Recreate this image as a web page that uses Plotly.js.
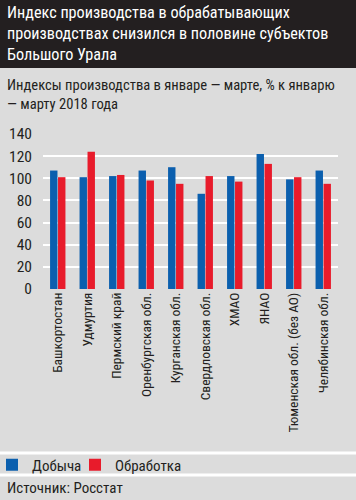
<!DOCTYPE html>
<html><head><meta charset="utf-8">
<script src="https://cdn.plot.ly/plotly-3.0.1.min.js"></script>
<style>html,body{margin:0;padding:0;background:#dcdcdc}</style>
</head><body><div id="chart" style="width:356px;height:500px"></div>
<script>
const categories = ["Башкортостан","Удмуртия","Пермский край","Оренбургская обл.","Курганская обл.","Свердловская обл.","ХМАО","ЯНАО","Тюменская обл. (без АО)","Челябинская обл."];
const dobycha = [107,101,102,107,110,86,102,122,99,107];
const obrabotka = [101,124,103,98,95,102,97,113,101,95];
const yTicks = [0,20,40,60,80,100,120,140];

const FONT = '"Roboto Condensed","Liberation Sans Narrow",sans-serif';
const W=356,H=500,L=43,R=18,T=134,B=211;
const pw=W-L-R, ph=H-T-B;
const px=x=>(x-L)/pw, py=y=>(H-B-y)/ph;

const data=[
 {type:'bar',name:'Добыча',x:categories,y:dobycha,marker:{color:'#0b5fae'},legend:'legend'},
 {type:'bar',name:'Обработка',x:categories,y:obrabotka,marker:{color:'#e81b2b'},legend:'legend2'}
];
const legendBase={orientation:'h',y:py(465),xanchor:'left',yanchor:'middle',font:{size:15,family:FONT,color:'#231f20'},bgcolor:'rgba(0,0,0,0)',itemwidth:30};
const layout={
 width:W,height:H,margin:{l:L,r:R,t:T,b:B,autoexpand:false},
 paper_bgcolor:'#dcdcdc',plot_bgcolor:'#dcdcdc',
 font:{family:FONT,color:'#231f20'},
 barmode:'group',bargap:0.46,bargroupgap:0.07,
 showlegend:true,
 legend:Object.assign({},legendBase,{x:px(-8)}),
 legend2:Object.assign({},legendBase,{x:px(75)}),
 xaxis:{type:'category',tickangle:-90,tickfont:{size:13.5,family:FONT,color:'#231f20'},showgrid:false,zeroline:false,showline:false,ticks:'',automargin:false},
 yaxis:{range:[0,140],tickvals:yTicks,ticktext:yTicks.map(String),tickfont:{size:15.5,family:FONT,color:'#231f20'},gridcolor:'#ffffff',gridwidth:2,zeroline:false,showline:false,ticks:'',ticklabelstandoff:10,automargin:false},
 shapes:[
  {type:'rect',xref:'paper',yref:'paper',x0:px(0),x1:px(W),y0:py(0),y1:py(68),fillcolor:'#231f20',line:{width:0},layer:'below'},
  {type:'line',xref:'paper',yref:'paper',x0:px(0),x1:px(W),y0:py(453),y1:py(453),line:{color:'#ffffff',width:3}},
  {type:'line',xref:'paper',yref:'paper',x0:px(0),x1:px(W),y0:py(475),y1:py(475),line:{color:'#ffffff',width:3}}
 ],
 annotations:[
  {xref:'paper',yref:'paper',x:px(5),y:py(1),xanchor:'left',yanchor:'top',align:'left',showarrow:false,
   text:'Индекс производства в обрабатывающих<br>производствах снизился в половине субъектов<br>Большого Урала',font:{size:16.2,color:'#ffffff',family:FONT}},
  {xref:'paper',yref:'paper',x:px(5),y:py(74),xanchor:'left',yanchor:'top',align:'left',showarrow:false,
   text:'Индексы производства в январе — марте, % к январю<br>— марту 2018 года',font:{size:14.6,color:'#231f20',family:FONT}},
  {xref:'paper',yref:'paper',x:px(5),y:py(488),xanchor:'left',yanchor:'middle',align:'left',showarrow:false,
   text:'Источник: Росстат',font:{size:15,color:'#231f20',family:FONT}}
 ]
};
Plotly.newPlot('chart',data,layout,{displayModeBar:false,staticPlot:true});
</script></body></html>
